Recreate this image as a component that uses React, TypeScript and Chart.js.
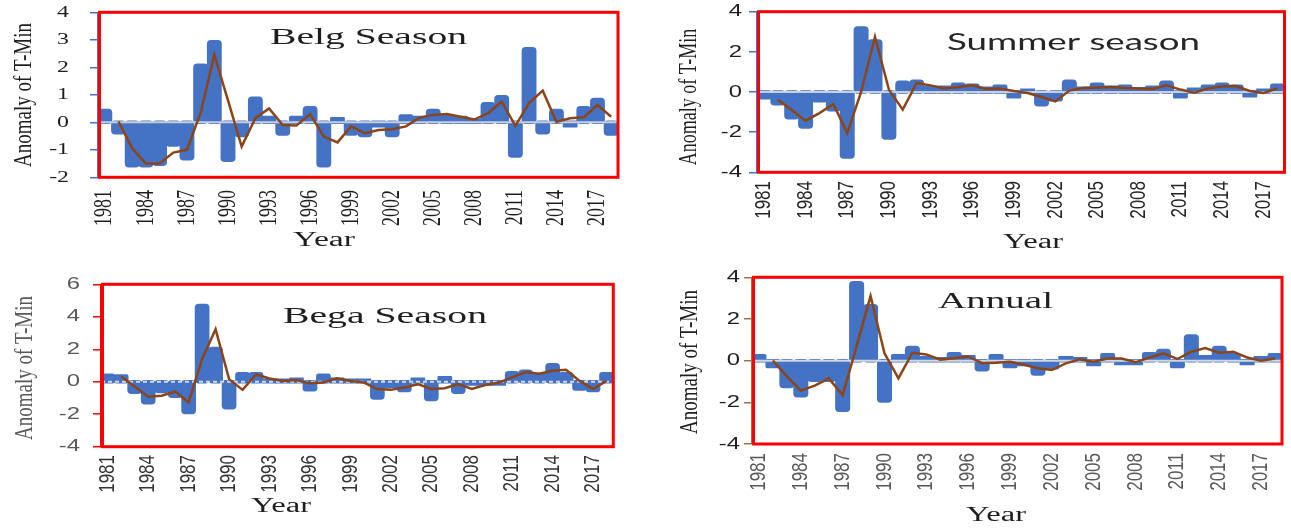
import React, { useEffect, useRef } from "react";
import { Chart, registerables } from "chart.js";

Chart.register(...registerables);

// ---------------- DATA ----------------
const years = [
  "1981", "1982", "1983", "1984", "1985", "1986", "1987", "1988", "1989", "1990",
  "1991", "1992", "1993", "1994", "1995", "1996", "1997", "1998", "1999", "2000",
  "2001", "2002", "2003", "2004", "2005", "2006", "2007", "2008", "2009", "2010",
  "2011", "2012", "2013", "2014", "2015", "2016", "2017", "2018",
];
const labelEvery = 3;

const belgAnomaly = [
  0.4, -0.35, -1.55, -1.55, -1.5, -0.8, -1.3, 2.05, 2.9, -1.35,
  -0.45, 0.85, 0.15, -0.4, 0.15, 0.5, -1.55, 0.1, -0.4, -0.45,
  -0.1, -0.45, 0.2, 0.15, 0.4, 0.2, 0.15, 0.05, 0.65, 0.9,
  -1.2, 2.65, -0.35, 0.4, -0.1, 0.5, 0.8, -0.4,
];
const belgMovingAvg = [
  null, 0.03, -0.95, -1.5, -1.5, -1.1, -1.0, 0.35, 2.45, 0.8,
  -0.88, 0.15, 0.5, -0.1, -0.12, 0.3, -0.52, -0.73, -0.15, -0.4,
  -0.28, -0.25, -0.15, 0.17, 0.27, 0.3, 0.2, 0.1, 0.33, 0.75,
  -0.13, 0.7, 1.15, 0.02, 0.15, 0.18, 0.63, 0.2,
];

const summerAnomaly = [
  -0.25, -0.55, -1.25, -1.7, -0.4, -0.85, -3.2, 3.15, 2.5, -2.25,
  0.45, 0.5, 0.2, 0.2, 0.35, 0.3, 0.15, 0.25, -0.2, 0.05,
  -0.6, -0.35, 0.5, 0.15, 0.35, 0.2, 0.25, 0.12, 0.2, 0.45,
  -0.2, 0.1, 0.25, 0.35, 0.25, -0.15, 0.05, 0.3,
];
const summerMovingAvg = [
  null, -0.38, -0.9, -1.43, -1.05, -0.6, -2.05, 0.0, 2.75, 0.12,
  -0.88, 0.45, 0.33, 0.18, 0.25, 0.33, 0.15, 0.17, 0.05, -0.05,
  -0.25, -0.47, 0.07, 0.2, 0.23, 0.25, 0.2, 0.17, 0.15, 0.33,
  0.12, -0.03, 0.17, 0.28, 0.3, 0.05, -0.05, 0.18,
];

const begaAnomaly = [
  0.35, 0.3, -0.6, -1.25, -0.55, -0.85, -1.85, 4.65, 2.0, -1.55,
  0.45, 0.45, 0.05, 0.05, 0.1, -0.45, 0.35, 0.1, 0.05, 0.05,
  -0.95, -0.25, -0.5, 0.1, -1.05, 0.2, -0.6, -0.1, -0.1, -0.1,
  0.5, 0.6, 0.4, 1.0, 0.45, -0.4, -0.5, 0.45,
];
const begaMovingAvg = [
  null, 0.33, -0.3, -0.92, -0.86, -0.6, -1.27, 1.4, 3.24, 0.16,
  -0.5, 0.45, 0.2, 0.05, 0.1, -0.1, -0.05, 0.22, 0.05, -0.05,
  -0.45, -0.5, -0.35, -0.15, -0.45, -0.4, -0.15, -0.45, -0.2, -0.05,
  0.27, 0.6, 0.5, 0.68, 0.74, 0.05, -0.45, 0.05,
];

const annualAnomaly = [
  0.2, -0.25, -1.2, -1.65, -0.9, -0.9, -2.35, 3.7, 2.6, -1.9,
  0.2, 0.6, 0.1, 0.05, 0.3, 0.15, -0.4, 0.2, -0.25, -0.15,
  -0.6, -0.3, 0.1, 0.05, -0.15, 0.25, -0.1, -0.1, 0.3, 0.45,
  -0.25, 1.15, 0.15, 0.6, 0.25, -0.1, 0.1, 0.25,
];
const annualMovingAvg = [
  null, 0.0, -0.75, -1.44, -1.2, -0.85, -1.65, 0.7, 3.1, 0.35,
  -0.85, 0.38, 0.3, 0.05, 0.12, 0.2, -0.12, -0.1, -0.05, -0.2,
  -0.37, -0.45, -0.13, 0.06, -0.05, 0.1, 0.1, -0.08, 0.15, 0.35,
  0.08, 0.43, 0.6, 0.38, 0.43, 0.15, 0.0, 0.1,
];

const belgTicks = { min: -2, max: 4, step: 1 };
const summerTicks = { min: -4, max: 4, step: 2 };
const begaTicks = { min: -4, max: 6, step: 2 };
const annualTicks = { min: -4, max: 4, step: 2 };

// ---------------- STYLE / LAYOUT ----------------
const SERIF = '"Liberation Serif", "Times New Roman", serif';
const SANS = '"Liberation Sans", Arial, sans-serif';
const BAR_COLOR = "#4472C4";
const LINE_COLOR = "#8B4518";
const yTitleText = "Anomaly of T-Min";
const xTitleText = "Year";

type TextSpec = { font: string; color: string; sx?: number; w?: number };

const panels = [
  {
    key: "belg",
    title: "Belg Season",
    bars: belgAnomaly,
    line: belgMovingAvg,
    ticks: belgTicks,
    canvas: { x: 0, y: 0, w: 640, h: 262 },
    area: { l: 98, t: 12.3, r: 618, b: 177.3 },
    axisColor: "#4472C4",
    zeroColor: "#C9CED8",
    zeroDash: null as number[] | null,
    yTick: { right: 69, font: `17px ${SERIF}`, color: "#1e1e1e", sx: 1.4 },
    xTick: { top: 190, font: `18px ${SERIF}`, color: "#1e1e1e", sx: 1.4 },
    yTitle: { cx: 24, cy: 95, font: `19px ${SERIF}`, color: "#1e1e1e", sx: 1.35 },
    xTitle: { cx: 324, cy: 241, font: `20px ${SERIF}`, color: "#1e1e1e", w: 62 },
    titleSpec: { x: 270, y: 44, font: `23px ${SERIF}`, color: "#1e1e1e", w: 197 },
  },
  {
    key: "summer",
    title: "Summer season",
    bars: summerAnomaly,
    line: summerMovingAvg,
    ticks: summerTicks,
    canvas: { x: 640, y: 0, w: 651, h: 262 },
    area: { l: 757, t: 11.7, r: 1284.5, b: 172.3 },
    axisColor: "#4472C4",
    zeroColor: "#C9CED8",
    zeroDash: null as number[] | null,
    yTick: { right: 742, font: `17px ${SANS}`, color: "#1e1e1e", sx: 1.4 },
    xTick: { top: 181, font: `17px ${SANS}`, color: "#262626", sx: 1.3 },
    yTitle: { cx: 690, cy: 97, font: `18px ${SERIF}`, color: "#1e1e1e", sx: 1.35 },
    xTitle: { cx: 1033, cy: 243, font: `20px ${SERIF}`, color: "#1e1e1e", w: 60 },
    titleSpec: { x: 947, y: 50, font: `23px Lato, ${SANS}`, color: "#262626", w: 253 },
  },
  {
    key: "bega",
    title: "Bega Season",
    bars: begaAnomaly,
    line: begaMovingAvg,
    ticks: begaTicks,
    canvas: { x: 0, y: 262, w: 640, h: 267 },
    area: { l: 101, t: 284.3, r: 613.3, b: 446.7 },
    axisColor: "#FF0000",
    zeroColor: "#D3D7DE",
    zeroDash: [4, 3] as number[] | null,
    yTick: { right: 80, font: `17px ${SANS}`, color: "#595959", sx: 1.4 },
    xTick: { top: 455, font: `17px ${SANS}`, color: "#333333", sx: 1.3 },
    yTitle: { cx: 25, cy: 368, font: `19px ${SERIF}`, color: "#595959", sx: 1.35 },
    xTitle: { cx: 281, cy: 507, font: `20px ${SERIF}`, color: "#1e1e1e", w: 60 },
    titleSpec: { x: 283, y: 323, font: `23px ${SERIF}`, color: "#1e1e1e", w: 204 },
  },
  {
    key: "annual",
    title: "Annual",
    bars: annualAnomaly,
    line: annualMovingAvg,
    ticks: annualTicks,
    canvas: { x: 640, y: 262, w: 651, h: 267 },
    area: { l: 752, t: 277.3, r: 1282, b: 444 },
    axisColor: "#A0704A",
    zeroColor: "#D3D7DE",
    zeroDash: null as number[] | null,
    yTick: { right: 740, font: `17px ${SANS}`, color: "#1e1e1e", sx: 1.4 },
    xTick: { top: 453, font: `17px ${SANS}`, color: "#595959", sx: 1.3 },
    yTitle: { cx: 690, cy: 362, font: `19px ${SERIF}`, color: "#1e1e1e", sx: 1.35 },
    xTitle: { cx: 996, cy: 516, font: `20px ${SERIF}`, color: "#1e1e1e", w: 60 },
    titleSpec: { x: 938, y: 308, font: `23px ${SERIF}`, color: "#1e1e1e", w: 115 },
  },
];

type Panel = (typeof panels)[number];

function drawText(
  ctx: CanvasRenderingContext2D,
  text: string,
  x: number,
  y: number,
  spec: TextSpec,
  align: CanvasTextAlign,
  baseline: CanvasTextBaseline,
  rot = false
) {
  ctx.save();
  ctx.font = spec.font;
  ctx.fillStyle = spec.color;
  let sx = spec.sx ?? 1;
  if (spec.w) {
    const m = ctx.measureText(text).width;
    if (m > 0) sx = spec.w / m;
  }
  ctx.translate(x, y);
  ctx.scale(sx, 1);
  if (rot) ctx.rotate(-Math.PI / 2);
  ctx.textAlign = align;
  ctx.textBaseline = baseline;
  ctx.fillText(text, 0, 0);
  ctx.restore();
}

function makePlugin(p: Panel) {
  return {
    id: "decor_" + p.key,
    beforeDatasetDraw(chart: any, args: any) {
      if (args.index !== 1) return;
      const { ctx, chartArea: a } = chart;
      const y0 = chart.scales.y.getPixelForValue(0);
      ctx.save();
      ctx.strokeStyle = p.zeroColor;
      ctx.lineWidth = 2;
      if (p.zeroDash) ctx.setLineDash(p.zeroDash);
      ctx.beginPath();
      ctx.moveTo(a.left, y0);
      ctx.lineTo(a.right, y0);
      ctx.stroke();
      ctx.restore();
    },
    afterDraw(chart: any) {
      const { ctx, chartArea: a } = chart;
      const ox = p.canvas.x;
      const oy = p.canvas.y;
      ctx.save();
      ctx.strokeStyle = "#FF0000";
      ctx.lineWidth = 3;
      ctx.strokeRect(a.left + 1.5, a.top, a.right - a.left - 1.5, a.bottom - a.top);
      ctx.restore();

      const ys = chart.scales.y;
      ys.ticks.forEach((t: any) => {
        drawText(ctx, String(t.label), p.yTick.right - ox, ys.getPixelForValue(t.value), p.yTick, "right", "middle");
      });
      const xs = chart.scales.x;
      years.forEach((yr, i) => {
        if (i % labelEvery !== 0) return;
        drawText(ctx, yr, xs.getPixelForValue(i), p.xTick.top - oy, p.xTick, "right", "middle", true);
      });
      drawText(ctx, yTitleText, p.yTitle.cx - ox, p.yTitle.cy - oy, p.yTitle, "center", "middle", true);
      drawText(ctx, xTitleText, p.xTitle.cx - ox, p.xTitle.cy - oy, p.xTitle, "center", "middle");
      drawText(ctx, p.title, p.titleSpec.x - ox, p.titleSpec.y - oy, p.titleSpec, "left", "alphabetic");
    },
  };
}

function PanelChart({ p }: { p: Panel }) {
  const ref = useRef<HTMLCanvasElement>(null);
  useEffect(() => {
    if (!ref.current) return;
    const c = p.canvas;
    const a = p.area;
    const chart = new Chart(ref.current, {
      type: "bar",
      data: {
        labels: years,
        datasets: [
          {
            type: "bar",
            data: p.bars,
            backgroundColor: BAR_COLOR,
            borderWidth: 0,
            borderRadius: 4,
            borderSkipped: false,
            inflateAmount: 2.5,
            barPercentage: 0.72,
            categoryPercentage: 1,
            order: 1,
          } as any,
          {
            type: "line",
            data: p.line,
            borderColor: LINE_COLOR,
            borderWidth: 2.5,
            pointRadius: 0,
            tension: 0,
            fill: false,
            order: 0,
          } as any,
        ],
      },
      options: {
        responsive: false,
        animation: false,
        devicePixelRatio: 1,
        layout: {
          padding: { left: 0, top: a.t - c.y, right: c.x + c.w - a.r, bottom: 0 },
        },
        plugins: {
          legend: { display: false },
          tooltip: { enabled: false },
          title: { display: false },
        },
        scales: {
          x: {
            type: "category",
            offset: true,
            grid: { display: false, drawTicks: false },
            border: { display: false },
            ticks: { display: false },
            afterFit: (s: any) => {
              s.height = c.y + c.h - a.b;
            },
          },
          y: {
            min: p.ticks.min,
            max: p.ticks.max,
            ticks: { display: false, stepSize: p.ticks.step },
            grid: {
              drawOnChartArea: false,
              drawTicks: true,
              tickLength: 8,
              color: p.axisColor,
              lineWidth: 1.5,
            },
            border: { display: true, color: p.axisColor, width: 1.5 },
            afterFit: (s: any) => {
              s.width = a.l - c.x;
            },
          },
        },
      } as any,
      plugins: [makePlugin(p)],
    });
    return () => chart.destroy();
  }, [p]);
  return (
    <canvas
      ref={ref}
      width={p.canvas.w}
      height={p.canvas.h}
      style={{
        position: "absolute",
        left: p.canvas.x,
        top: p.canvas.y,
        width: p.canvas.w,
        height: p.canvas.h,
      }}
    />
  );
}

export default function App() {
  return (
    <div
      style={{
        position: "fixed",
        left: 0,
        top: 0,
        width: 1291,
        height: 529,
        background: "#ffffff",
        overflow: "hidden",
      }}
    >
      {panels.map((p) => (
        <PanelChart key={p.key} p={p} />
      ))}
    </div>
  );
}
